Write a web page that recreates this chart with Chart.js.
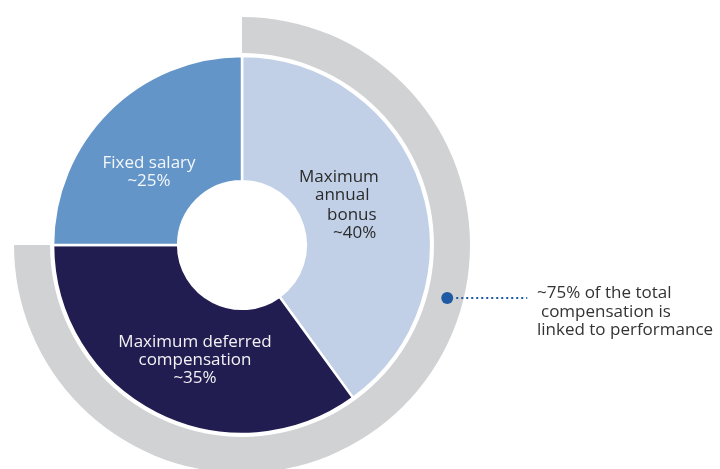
<!DOCTYPE html>
<html>
<head>
<meta charset="utf-8">
<script src="https://cdn.jsdelivr.net/npm/chart.js@4"></script>
<style>
  html, body { margin: 0; padding: 0; background: #ffffff; }
  #wrap { width: 720px; height: 469px; position: relative; }
</style>
</head>
<body>
<div id="wrap"><canvas id="payChart"></canvas></div>
<script>
// compensation mix, clockwise from 12 o'clock
const categories = ['Maximum annual bonus', 'Maximum deferred compensation', 'Fixed salary'];
const shares = [40, 35, 25];
const sliceColors = ['#c1d0e7', '#221d51', '#6395c8'];

// outer ring: variable (performance linked) part vs. the rest
const performanceParts = ['Performance linked', 'Other'];
const performanceShare = [75, 25];

const ctx = document.getElementById('payChart').getContext('2d');

// label lines, offsets relative to the chart centre
const sliceLabels = [
    { lines: ['Maximum', 'annual', 'bonus', '~40%'], dx: [57, 73, 85, 91], dy: [-68, -50, -30, -12], align: 'left', color: '#2b2b2b' },
    { lines: ['Maximum deferred', 'compensation', '~35%'], dx: [-47, -47, -47], dy: [97, 115, 133], align: 'center', color: '#f2f2f5' },
    { lines: ['Fixed salary', '~25%'], dx: [-93, -93], dy: [-82, -64], align: 'center', color: '#f4f7fb' }
];
const noteLines = ['~75% of the total', 'compensation is', 'linked to performance'];

const labelPlugin = {
    id: 'sliceLabels',
    afterDatasetsDraw(chart) {
        const c = chart.ctx;
        const ring = chart.getDatasetMeta(0).data[0];
        const cx = ring.x, cy = ring.y;

        c.save();
        c.font = '17px "Open Sans"';
        c.textBaseline = 'middle';
        sliceLabels.forEach(l => {
            c.fillStyle = l.color;
            c.textAlign = l.align;
            l.lines.forEach((t, i) => c.fillText(t, cx + l.dx[i], cy + l.dy[i]));
        });

        // marker on the outer ring with dotted leader
        const mid = (ring.innerRadius + ring.outerRadius) / 2 + 2;
        const ang = (104.5 - 90) * Math.PI / 180;
        const px = cx + mid * Math.cos(ang);
        const py = cy + mid * Math.sin(ang);
        c.fillStyle = '#1d5aa3';
        c.beginPath();
        c.arc(px, py, 6, 0, Math.PI * 2);
        c.fill();

        c.strokeStyle = '#1d5aa3';
        c.lineWidth = 2;
        c.setLineDash([2, 3]);
        c.beginPath();
        c.moveTo(px + 9, py);
        c.lineTo(px + 80, py);
        c.stroke();
        c.setLineDash([]);

        c.fillStyle = '#333333';
        c.textAlign = 'left';
        c.font = '17px "Open Sans"';
        const ndx = [295, 299, 295], ndy = [48, 67, 85];
        noteLines.forEach((t, i) => c.fillText(t, cx + ndx[i], cy + ndy[i]));
        c.restore();
    }
};

new Chart(ctx, {
    type: 'doughnut',
    data: {
        labels: categories,
        datasets: [{
            label: 'Performance',
            data: performanceShare,
            backgroundColor: ['#d1d2d4', 'rgba(0,0,0,0)'],
            borderWidth: 0,
            weight: 36,
            clip: false
        }, {
            label: 'gap',
            data: [1],
            backgroundColor: 'rgba(0,0,0,0)',
            borderWidth: 0,
            weight: 3,
            clip: false
        }, {
            label: 'Compensation',
            data: shares,
            backgroundColor: sliceColors,
            borderColor: '#ffffff',
            borderWidth: 2.5,
            weight: 125,
            clip: false
        }]
    },
    options: {
        responsive: true,
        maintainAspectRatio: false,
        animation: false,
        radius: 228,
        cutout: '28%',
        layout: {
            padding: { left: 0, right: 236, top: 21, bottom: 0 }
        },
        plugins: {
            legend: { display: false },
            tooltip: { enabled: false }
        }
    },
    plugins: [labelPlugin]
});
</script>
</body>
</html>
